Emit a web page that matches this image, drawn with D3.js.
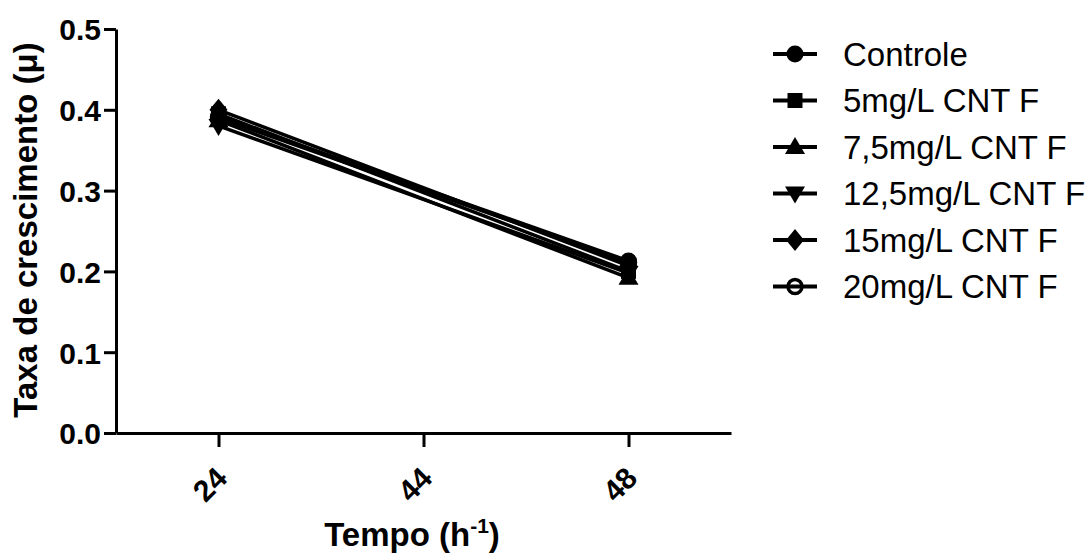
<!DOCTYPE html>
<html>
<head>
<meta charset="utf-8">
<script src="https://cdn.jsdelivr.net/npm/d3@7"></script>
<style>
  html, body { margin: 0; padding: 0; background: #fff; }
  svg { display: block; font-family: "Liberation Sans", Arial, sans-serif; }
</style>
</head>
<body>
<svg id="chart" width="1090" height="554"></svg>
<script>
// ---- data ----
const categories = ["24", "44", "48"];
const seriesNames = ["Controle", "5mg/L CNT F", "7,5mg/L CNT F", "12,5mg/L CNT F", "15mg/L CNT F", "20mg/L CNT F"];
const seriesMarkers = ["circle", "square", "triangleUp", "triangleDown", "diamond", "openCircle"];
const controle = [0.392, null, 0.213];
const mg5 = [0.395, null, 0.200];
const mg7_5 = [0.387, null, 0.192];
const mg12_5 = [0.380, null, 0.198];
const mg15 = [0.400, null, 0.207];
const mg20 = [0.390, null, 0.211];
const seriesValues = [controle, mg5, mg7_5, mg12_5, mg15, mg20];
const yTicks = [0.0, 0.1, 0.2, 0.3, 0.4, 0.5];
const yTitle = "Taxa de crescimento (μ)";
const xTitle = "Tempo (h";

// ---- layout ----
const svg = d3.select("#chart");
const x = d3.scalePoint().domain(categories).range([116, 731]).padding(0.5);
const y = d3.scaleLinear().domain([0, 0.5]).range([433, 29]);

// y axis
const yAxis = svg.append("g").attr("transform", "translate(116,0)")
  .call(d3.axisLeft(y).tickValues(yTicks).tickFormat(d3.format(".1f")).tickSize(12).tickSizeOuter(0).tickPadding(3));
yAxis.select(".domain").attr("stroke", "#000").attr("stroke-width", 3);
yAxis.selectAll(".tick line").attr("stroke", "#000").attr("stroke-width", 3);
yAxis.selectAll(".tick text").attr("fill", "#000").attr("font-size", 30).attr("font-weight", "bold")
  .attr("font-family", "'Liberation Sans', Arial, sans-serif").attr("dy", "0.36em");

// x axis
const xAxis = svg.append("g").attr("transform", "translate(0,433)")
  .call(d3.axisBottom(x).tickSize(14).tickSizeOuter(0));
xAxis.select(".domain").attr("stroke", "#000").attr("stroke-width", 3);
xAxis.selectAll(".tick line").attr("stroke", "#000").attr("stroke-width", 3);
xAxis.selectAll(".tick text").attr("fill", "#000").attr("font-size", 30).attr("font-weight", "bold")
  .attr("font-family", "'Liberation Sans', Arial, sans-serif")
  .attr("y", null).attr("dy", null)
  .attr("text-anchor", "end")
  .attr("transform", "translate(10,47) rotate(-45)");

// axis titles
svg.append("text").attr("transform", "translate(37,230) rotate(-90)")
  .attr("text-anchor", "middle").attr("font-size", 33).attr("font-weight", "bold").attr("fill", "#000")
  .text(yTitle);
const xt = svg.append("text").attr("x", 412).attr("y", 546)
  .attr("text-anchor", "middle").attr("font-size", 33).attr("font-weight", "bold").attr("fill", "#000");
xt.append("tspan").text(xTitle);
xt.append("tspan").attr("font-size", 21).attr("dy", -13).text("-1");
xt.append("tspan").attr("dy", 13).text(")");

// markers
function markerPath(type) {
  switch (type) {
    case "square": return "M-7.5,-7.5H7.5V7.5H-7.5Z";
    case "triangleUp": return "M0,-10L10,7L-10,7Z";
    case "triangleDown": return "M0,10L10,-7L-10,-7Z";
    case "diamond": return "M0,-11L9,0L0,11L-9,0Z";
    default: return null;
  }
}
function drawMarker(g, type, cx, cy) {
  if (type === "circle") {
    g.append("circle").attr("cx", cx).attr("cy", cy).attr("r", 8.5).attr("fill", "#000");
  } else if (type === "openCircle") {
    g.append("circle").attr("cx", cx).attr("cy", cy).attr("r", 7).attr("fill", "none")
      .attr("stroke", "#000").attr("stroke-width", 3.5);
  } else {
    g.append("path").attr("d", markerPath(type)).attr("transform", `translate(${cx},${cy})`).attr("fill", "#000");
  }
}

// series lines
const line = d3.line().defined(d => d.v !== null).x(d => x(d.c)).y(d => y(d.v));
const plot = svg.append("g");
seriesValues.forEach((vals, i) => {
  const pts = categories.map((c, j) => ({ c, v: vals[j] })).filter(d => d.v !== null);
  plot.append("path").datum(pts).attr("d", line).attr("fill", "none")
    .attr("stroke", "#000").attr("stroke-width", 3.5);
});
seriesValues.forEach((vals, i) => {
  const g = plot.append("g");
  categories.forEach((c, j) => {
    if (vals[j] !== null) drawMarker(g, seriesMarkers[i], x(c), y(vals[j]));
  });
});

// legend
const legendRowY = d3.scaleLinear().domain([0, 5]).range([54, 286.5]);
const legend = svg.append("g");
seriesNames.forEach((name, i) => {
  const ly = legendRowY(i);
  const g = legend.append("g");
  g.append("line").attr("x1", 773).attr("x2", 817).attr("y1", ly).attr("y2", ly)
    .attr("stroke", "#000").attr("stroke-width", 4);
  drawMarker(g, seriesMarkers[i], 795, ly);
  g.append("text").attr("x", 843).attr("y", ly + 11.5).attr("font-size", 33).attr("fill", "#000").text(name);
});
</script>
</body>
</html>
